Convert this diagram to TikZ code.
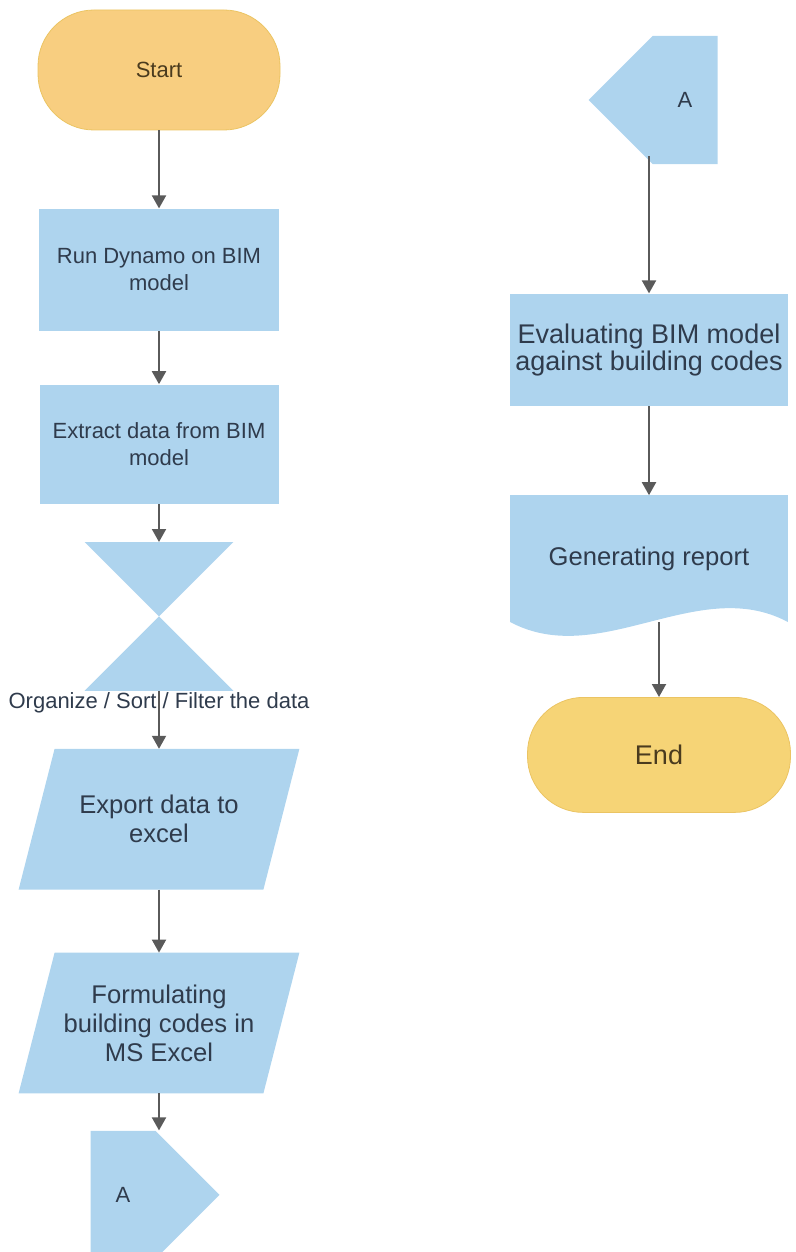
\documentclass[tikz,border=0pt]{standalone}
\usepackage{fontspec}
\setmainfont{Liberation Sans}
\usetikzlibrary{arrows.meta, positioning, shapes.geometric, shapes.symbols}

\definecolor{boxblue}{HTML}{AED4EE}
\definecolor{startyellow}{HTML}{F8CE80}
\definecolor{endyellow}{HTML}{F6D476}
\definecolor{termedge}{HTML}{EBC463}
\definecolor{boxtext}{HTML}{2F3B4C}
\definecolor{termtext}{HTML}{4A3B1E}
\definecolor{arrowgray}{HTML}{5A5A5A}

\pgfdeclarelayer{background}
\pgfsetlayers{background,main}

\begin{document}
\begin{tikzpicture}[
  node distance=30pt,
  box/.style={rectangle, fill=boxblue, text=boxtext, align=center, inner sep=2pt},
  smalltext/.style={font=\fontsize{11}{13.3}\selectfont},
  bigtext/.style={font=\fontsize{12.8}{14.5}\selectfont},
  term/.style={rectangle, rounded corners=28pt, draw=termedge, line width=0.4pt, text=termtext},
  io/.style={rectangle, text=boxtext, align=center, minimum width=122pt, minimum height=70pt},
  offpage/.style={box, signal, signal pointer angle=90, minimum width=64.5pt, minimum height=64pt, smalltext},
  hourglass/.style={rectangle, minimum width=74pt, minimum height=74pt, inner sep=0pt},
  arrow/.style={-{Triangle[width=7pt,length=6.5pt]}, draw=arrowgray, line width=1pt}
]
\useasboundingbox (0,0) rectangle (398pt,-626pt);

% Left column
\node[term, fill=startyellow, smalltext, minimum width=121pt, minimum height=60pt] (start) at (79.5pt,-35pt) {Start};
\node[box, smalltext, minimum width=120pt, minimum height=61pt, below=39pt of start] (run) {Run Dynamo on BIM\\model};
\node[box, smalltext, minimum width=119.5pt, minimum height=59.5pt, below=26.5pt of run] (extract) {Extract data from BIM\\model};
\node[hourglass, below=19pt of extract,
  label={[smalltext, text=boxtext, label distance=0pt, inner sep=0.5pt]below:Organize / Sort / Filter the data}] (sort) {};
\node[io, bigtext, below=29pt of sort] (export) {Export data to\\excel};
\node[io, bigtext, below=31.5pt of export] (formulate) {Formulating\\building codes in\\MS Excel};
\node[offpage, signal to=east, below=18.5pt of formulate, xshift=-18pt] (connA) {A};

% Right column
\node[offpage, signal to=west] (connB) at (342.5pt,-50pt) {A};
\node[box, font=\fontsize{13.5}{11}\selectfont, minimum width=139pt, minimum height=56pt,
  below=64.5pt of connB, xshift=-18pt] (evaluate) {Evaluating BIM model\\against building codes};
\node[rectangle, bigtext, text=boxtext, minimum width=138.5pt, minimum height=63pt,
  below=44.5pt of evaluate] (report) {Generating report};
\node[term, fill=endyellow, font=\fontsize{13.5}{16}\selectfont, minimum width=131.5pt, minimum height=57.5pt,
  below=37.5pt of report, xshift=5pt] (stop) {End};

% Shapes drawn by hand
\begin{pgfonlayer}{background}
  \fill[boxblue] (sort.north west) -- (sort.north east) -- (sort.south west) -- (sort.south east) -- cycle;
  \foreach \io in {export, formulate}
    \fill[boxblue] ([xshift=9pt]\io.north west) -- ([xshift=9pt]\io.north east)
      -- ([xshift=-9pt]\io.south east) -- ([xshift=-9pt]\io.south west) -- cycle;
  \fill[boxblue] (report.north west) -- (report.north east) -- (report.south east)
    .. controls ([xshift=-45pt,yshift=24pt]report.south east) and ([xshift=45pt,yshift=-24pt]report.south west) .. (report.south west) -- cycle;
\end{pgfonlayer}

% Arrows
\draw[arrow] (start) -- (run);
\draw[arrow] (run) -- (extract);
\draw[arrow] (extract) -- (sort);
\draw[arrow] (sort) -- (export);
\draw[arrow] (export) -- (formulate);
\draw[arrow] (formulate) -- (formulate |- connA.north);

\draw[arrow] ([yshift=4pt]evaluate |- connB.south) -- (evaluate);
\draw[arrow] (evaluate) -- (report);
\draw[arrow] (stop |- report.south) -- (stop);

\end{tikzpicture}
\end{document}
